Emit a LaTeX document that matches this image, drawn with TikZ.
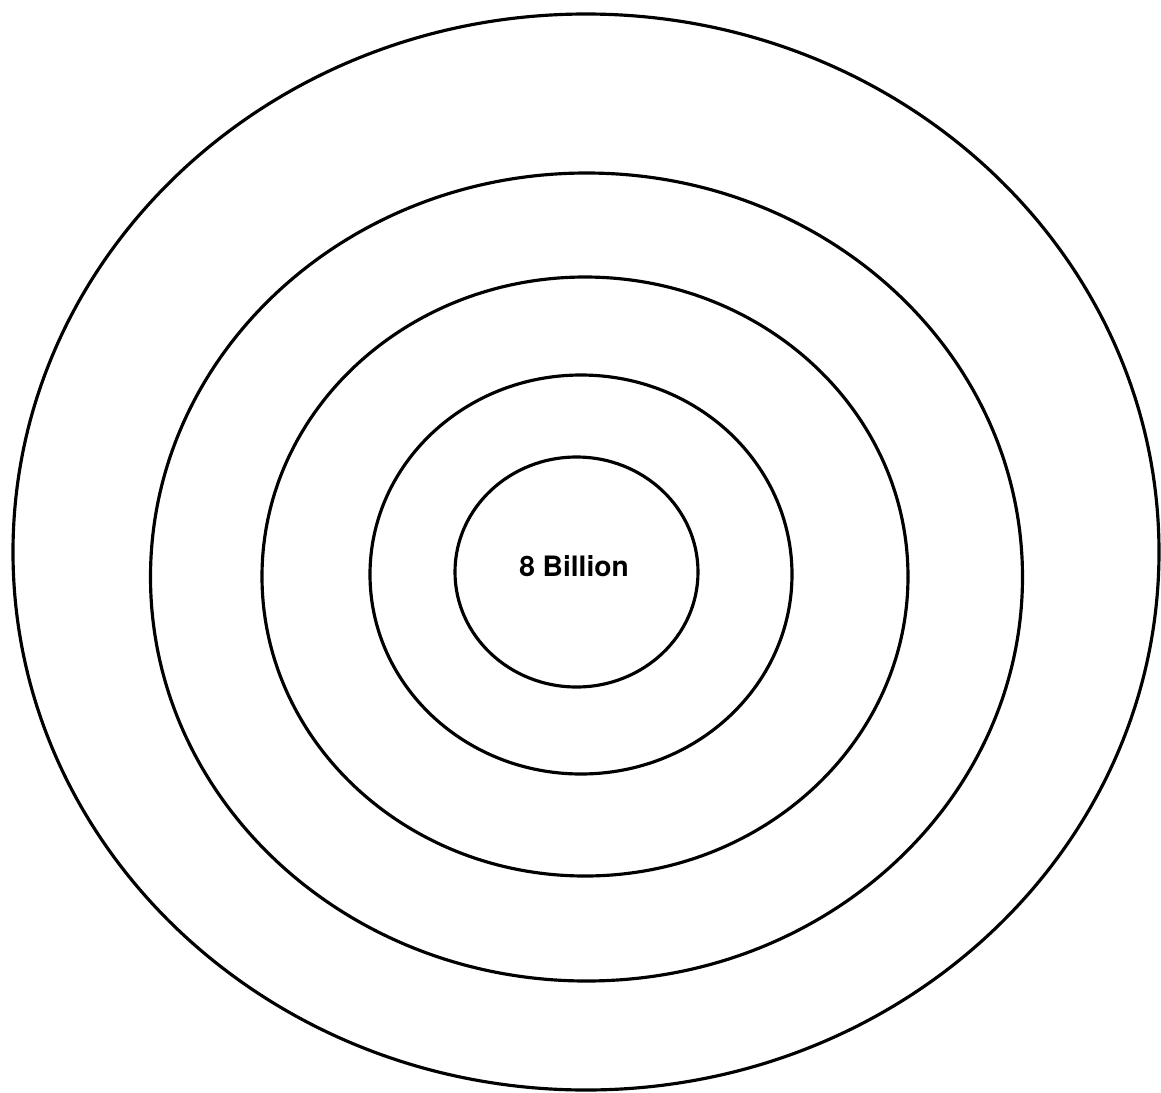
\documentclass[tikz,border=0pt]{standalone}
\usepackage{fontspec}
\setsansfont{TeX Gyre Heros}
\usetikzlibrary{positioning}

\begin{document}
\begin{tikzpicture}[x=0.02cm,y=-0.02cm]
  \useasboundingbox (0,0) rectangle (1161,1093);
  \foreach \cx/\cy/\rx/\ry in {586/552/573/538,586.5/577/436/404,585/576.5/323/299.5,581/574.5/211/199.5,576.5/572/121.5/115}
    {\draw[line width=1.8pt] (\cx,\cy) ellipse [x radius=\rx, y radius=\ry];}
  \node[font=\sffamily\bfseries\fontsize{16}{19}\selectfont] (count) at (574,566) {8 Billion};
\end{tikzpicture}
\end{document}
